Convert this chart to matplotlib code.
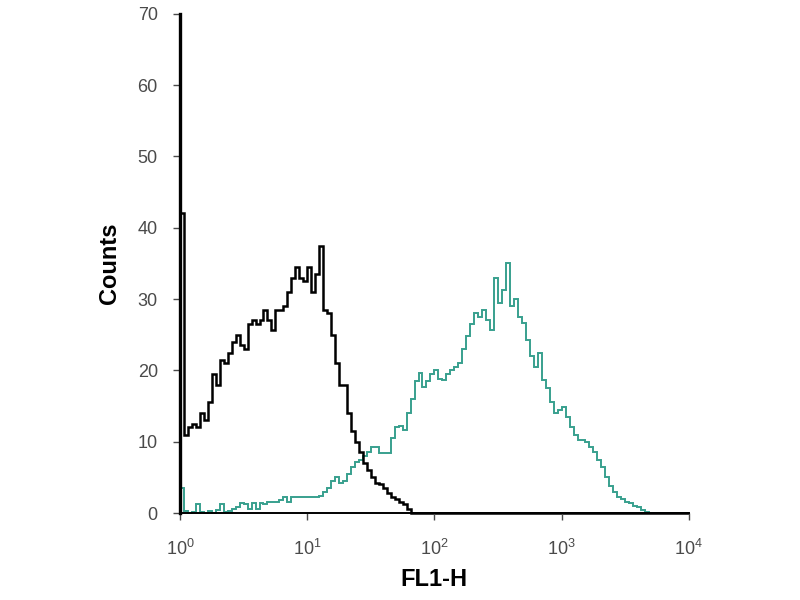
import matplotlib.pyplot as plt
import numpy as np

# ----------------------------
# 1. Histogram data (128 channels over 4 decades, 32 per decade)
# ----------------------------

channels_per_decade = 32

# isotype / unstained control (black)
control_counts = [
    42, 11, 12, 12.5, 12, 14, 13, 15.5, 19.5, 18,
    21.5, 21, 22.5, 24, 25, 23.5, 23, 26.5, 27, 26.5,
    27, 28.5, 27, 25.7, 28.5, 28.5, 29, 31, 33, 34.5,
    33, 32.5, 34.5, 31, 33.5, 37.5, 28.5, 28, 25, 21,
    18, 18, 14, 11.5, 10, 8.5, 7, 6, 5, 4.2,
    4, 3.5, 2.8, 2.2, 2, 1.6, 1.2, 0.5, 0, 0,
    0, 0, 0, 0, 0, 0, 0, 0, 0, 0,
    0, 0, 0, 0, 0, 0, 0, 0, 0, 0,
    0, 0, 0, 0, 0, 0, 0, 0, 0, 0,
    0, 0, 0, 0, 0, 0, 0, 0, 0, 0,
    0, 0, 0, 0, 0, 0, 0, 0, 0, 0,
    0, 0, 0, 0, 0, 0, 0, 0, 0, 0,
    0, 0, 0, 0, 0, 0, 0, 0,
]

# stained sample (teal)
stained_counts = [
    3.5, 0.3, 0, 0.2, 1.2, 0.2, 0, 0.3, 0, 0.4,
    1.2, 0.2, 0.3, 0.5, 0.8, 1.4, 1.3, 0.6, 1.4, 0.6,
    1.4, 1.3, 1.5, 1.5, 1.6, 1.8, 2.2, 1.6, 2.2, 2.2,
    2.2, 2.2, 2.2, 2.2, 2.3, 2.4, 3.0, 3.5, 4.5, 5.0,
    4.2, 4.5, 5.5, 6.5, 7.2, 7.4, 8.0, 8.5, 9.3, 9.3,
    8.4, 8.4, 8.4, 10.5, 12, 12.2, 11.6, 14, 16, 18.5,
    19.6, 17.7, 18.5, 19.5, 20, 18.8, 18.6, 19.5, 20, 20.5,
    21, 23, 24.8, 26.5, 28, 27.5, 28.5, 27, 25.7, 33,
    29.4, 31.3, 35, 29, 30, 27.5, 26.6, 24.3, 22, 20.5,
    22.4, 18.6, 17.5, 15.5, 14, 14.5, 14.9, 13.5, 12, 11,
    10.2, 10.2, 10, 9.3, 8.5, 7.4, 6.5, 5, 3.8, 3,
    2.2, 2, 1.6, 1.4, 1.0, 0.8, 0.4, 0.2, 0, 0,
    0, 0, 0, 0, 0, 0, 0, 0,
]

y_ticks = [0, 10, 20, 30, 40, 50, 60, 70]
x_ticks = [1, 10, 100, 1000, 10000]
x_tick_labels = ['10$^{0}$', '10$^{1}$', '10$^{2}$', '10$^{3}$', '10$^{4}$']

# ----------------------------
# 2. Plot
# ----------------------------

plt.rcParams['font.family'] = ['Liberation Sans', 'DejaVu Sans']
plt.rcParams['mathtext.fontset'] = 'custom'
plt.rcParams['mathtext.rm'] = 'Liberation Sans'

n_channels = len(control_counts)
edges = 10 ** (np.arange(n_channels + 1) / channels_per_decade)

fig = plt.figure(figsize=(8, 6), dpi=100)
ax = fig.add_axes([0.225, 0.145, 0.636, 0.832])

ax.stairs(stained_counts, edges, color='#38a08e', linewidth=1.4, clip_on=False)
ax.stairs(control_counts, edges, color='black', linewidth=1.8, clip_on=False)

ax.set_xscale('log')
ax.set_xlim(1, 10000)
ax.set_ylim(0, 70)

ax.set_xticks(x_ticks)
ax.set_xticklabels(x_tick_labels)
ax.xaxis.set_minor_locator(plt.NullLocator())
ax.set_yticks(y_ticks)

ax.spines['top'].set_visible(False)
ax.spines['right'].set_visible(False)
ax.spines['left'].set_linewidth(2.4)
ax.spines['bottom'].set_linewidth(1.4)

ax.tick_params(axis='both', direction='out', length=5, width=1.0,
               colors='#4a4a4a', labelsize=13)
ax.tick_params(axis='y', pad=11)
ax.tick_params(axis='x', pad=14)

ax.set_ylabel('Counts', fontsize=17, fontweight='bold', labelpad=12)
ax.set_xlabel('FL1-H', fontsize=17, fontweight='bold', labelpad=6)

fig.savefig('out.png', dpi=100)
